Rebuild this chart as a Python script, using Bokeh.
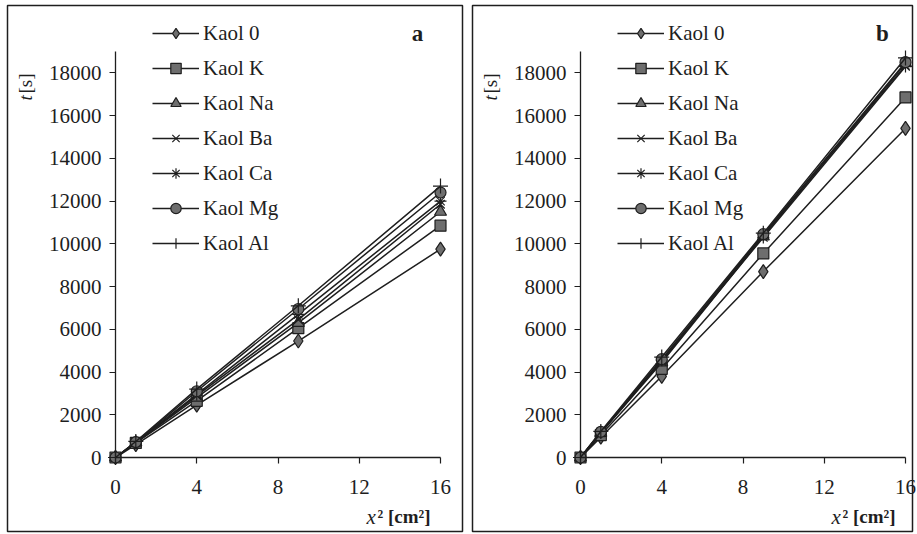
import math
from bokeh.plotting import figure
from bokeh.layouts import row
from bokeh.models import (Range1d, FixedTicker, Legend, LegendItem, Label,
                          BoxAnnotation)
from bokeh.embed import file_html
from bokeh.resources import INLINE

# ---------------- data ----------------
x_sq = [0, 1, 4, 9, 16]
series_names = ["Kaol 0", "Kaol K", "Kaol Na", "Kaol Ba", "Kaol Ca", "Kaol Mg", "Kaol Al"]
markers = ["diamond", "square", "triangle", "x", "asterisk", "circle", "cross"]
marker_sizes = [14, 11, 12, 12, 12, 11, 15]

kaol0_a = [0, 600, 2450, 5450, 9750]
kaolK_a = [0, 680, 2650, 6050, 10850]
kaolNa_a = [0, 700, 2800, 6300, 11500]
kaolBa_a = [0, 700, 2900, 6450, 11850]
kaolCa_a = [0, 720, 2950, 6700, 12000]
kaolMg_a = [0, 720, 3100, 6950, 12400]
kaolAl_a = [0, 750, 3200, 7100, 12700]

kaol0_b = [0, 950, 3800, 8700, 15400]
kaolK_b = [0, 1050, 4150, 9550, 16850]
kaolNa_b = [0, 1150, 4450, 10350, 18450]
kaolBa_b = [0, 1150, 4500, 10400, 18350]
kaolCa_b = [0, 1180, 4550, 10300, 18300]
kaolMg_b = [0, 1200, 4600, 10450, 18500]
kaolAl_b = [0, 1220, 4700, 10500, 18700]

panel_a = [kaol0_a, kaolK_a, kaolNa_a, kaolBa_a, kaolCa_a, kaolMg_a, kaolAl_a]
panel_b = [kaol0_b, kaolK_b, kaolNa_b, kaolBa_b, kaolCa_b, kaolMg_b, kaolAl_b]

x_ticks = [0, 4, 8, 12, 16]
y_ticks = [0, 2000, 4000, 6000, 8000, 10000, 12000, 14000, 16000, 18000]
x_max = 16
y_max = 19000

# ---------------- layout constants (pixels) ----------------
H = 534
AX_LEFT = 115      # canvas x of x=0
AX_RIGHT = 440     # canvas x of x=16
AX_BOTTOM = 457    # canvas y of t=0
AX_TOP = 51        # canvas y of t=19000

FONT = "Liberation Serif"
INK = "#1e1e1e"
FILL = "#6e6e6e"


def make_panel(data, letter, width, box_right):
    xs = x_max / (AX_RIGHT - AX_LEFT)
    ys = y_max / (AX_BOTTOM - AX_TOP)
    xr = Range1d(-AX_LEFT * xs, (width - AX_LEFT) * xs)
    yr = Range1d(-(H - AX_BOTTOM) * ys, AX_BOTTOM * ys)
    p = figure(width=width, height=H, output_backend="svg", toolbar_location=None,
               x_range=xr, y_range=yr, min_border=0,
               min_border_left=0, min_border_right=0,
               min_border_top=0, min_border_bottom=0)
    p.outline_line_color = None
    p.grid.visible = False
    p.background_fill_color = "white"
    p.border_fill_color = "white"

    p.xaxis.fixed_location = 0
    p.yaxis.fixed_location = 0
    p.xaxis.bounds = (0, x_max)
    p.yaxis.bounds = (0, y_max)
    for ax in (p.xaxis[0], p.yaxis[0]):
        ax.axis_line_color = INK
        ax.axis_line_width = 1.3
        ax.major_tick_line_color = INK
        ax.major_tick_line_width = 1.2
        ax.major_tick_in = 0
        ax.major_tick_out = 6
        ax.minor_tick_line_color = None
        ax.major_label_text_font = FONT
        ax.major_label_text_font_size = "21px"
        ax.major_label_text_color = INK
    p.xaxis.ticker = FixedTicker(ticks=x_ticks)
    p.yaxis.ticker = FixedTicker(ticks=y_ticks)
    p.xaxis.major_label_standoff = 16
    p.yaxis.major_label_standoff = 8

    items = []
    for name, vals, mk, ms in zip(series_names, data, markers, marker_sizes):
        ln = p.line(x_sq, vals, line_color=INK, line_width=1.5)
        sc = p.scatter(x_sq, vals, marker=mk, size=ms, fill_color=FILL,
                       line_color=INK, line_width=1.2)
        items.append(LegendItem(label=name, renderers=[ln, sc]))

    legend = Legend(items=items, location=(152, H - 256), orientation="vertical",
                    glyph_width=47, glyph_height=26, label_height=26, spacing=9,
                    padding=0, margin=0, label_standoff=4,
                    label_text_font=FONT, label_text_font_size="21px",
                    label_text_color=INK, border_line_color=None,
                    background_fill_alpha=0)
    p.add_layout(legend, "center")

    p.add_layout(Label(x=417, y=H - 33, x_units="screen", y_units="screen", text=letter,
                       text_font=FONT, text_font_size="23px", text_font_style="bold",
                       text_color=INK, text_align="center", text_baseline="middle"))

    # y-axis title (rotated)
    p.add_layout(Label(x=25, y=H - 100, x_units="screen", y_units="screen", text="t",
                       angle=math.pi / 2, text_font=FONT, text_font_size="19px",
                       text_font_style="italic", text_color=INK,
                       text_align="left", text_baseline="middle"))
    p.add_layout(Label(x=25, y=H - 93, x_units="screen", y_units="screen", text=" [s]",
                       angle=math.pi / 2, text_font=FONT, text_font_size="19px",
                       text_color=INK, text_align="left", text_baseline="middle"))

    # x-axis title
    p.add_layout(Label(x=366, y=H - 516, x_units="screen", y_units="screen", text="x",
                       text_font=FONT, text_font_size="21px", text_font_style="italic",
                       text_color=INK, text_align="left", text_baseline="alphabetic"))
    p.add_layout(Label(x=377, y=H - 516, x_units="screen", y_units="screen",
                       text="\u00b2 [cm\u00b2]", text_font=FONT, text_font_size="19px",
                       text_font_style="bold", text_color=INK, text_align="left",
                       text_baseline="alphabetic"))

    p.add_layout(BoxAnnotation(left=7, right=box_right, top=H - 5, bottom=H - 531,
                               left_units="screen", right_units="screen",
                               top_units="screen", bottom_units="screen",
                               fill_alpha=0, line_color=INK, line_alpha=1.0,
                               line_width=1.5))
    return p


pa = make_panel(panel_a, "a", 465, 462)
pb = make_panel(panel_b, "b", 452, 447)

layout = row(pa, pb)
open("out.html", "w").write(file_html(layout, INLINE))
